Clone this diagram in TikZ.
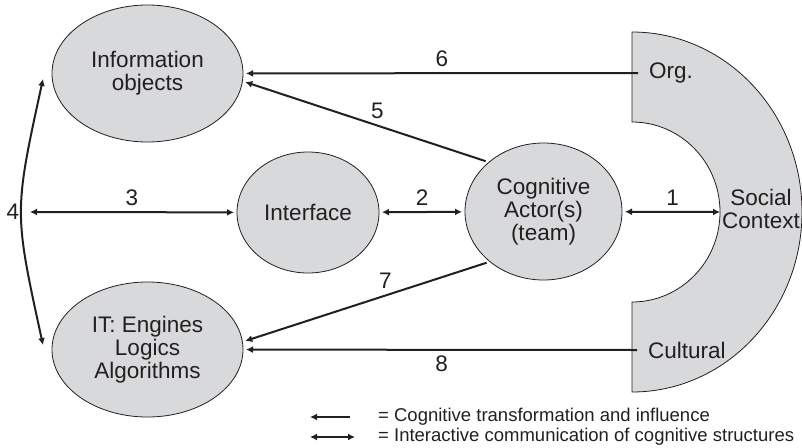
\documentclass[tikz,border=0pt]{standalone}
\usepackage{fontspec}
\setmainfont{Liberation Sans}
\usetikzlibrary{arrows.meta}
\usetikzlibrary{shapes.geometric}

\definecolor{ink}{RGB}{35,31,32}
\definecolor{blobgray}{RGB}{216,217,219}

\begin{document}
\begin{tikzpicture}[x=1pt, y=-1pt,
  blob/.style={ellipse, draw=ink, line width=0.8pt, fill=blobgray, inner sep=0pt,
    outer sep=3pt, align=center, text=ink, font=\fontsize{22.5}{23}\selectfont},
  num/.style={text=ink, font=\fontsize{22.5}{23}\selectfont},
  legend/.style={text=ink, anchor=west, inner sep=0pt, font=\fontsize{18.5}{20}\selectfont},
  oneway/.style={draw=ink, line width=2pt, -{Latex[length=7pt,width=7pt]}},
  twoway/.style={draw=ink, line width=2pt, {Latex[length=7pt,width=7pt]}-{Latex[length=7pt,width=7pt]}},
]
\useasboundingbox (0,0) rectangle (802,447);

% social context half ring
\draw[draw=ink, line width=0.8pt, fill=blobgray] (632,32)
  arc[start angle=90, end angle=-90, x radius=170pt, y radius=180pt] -- (632,302)
  arc[start angle=-90, end angle=90, x radius=88pt, y radius=90pt] -- cycle;
\coordinate (soc) at (720,212);
\node[num, align=center] (soctxt) at (761,209) {Social\\Context};
\node[num, anchor=west, inner sep=0pt, outer sep=11pt] (org) at (638,73) {Org.};
\node[num, anchor=west, inner sep=0pt, outer sep=11pt] (cult) at (637,350) {Cultural};

% ellipses
\node[blob, minimum width=191pt, minimum height=137pt] (info) at (147.5,73.5) {Information\\objects};
\node[blob, minimum width=142pt, minimum height=121pt] (iface) at (308,212.5) {Interface};
\node[blob, minimum width=157pt, minimum height=137pt] (actor) at (543.5,211.5) {Cognitive\\Actor(s)\\(team)};
\node[blob, minimum width=191pt, minimum height=135pt] (itsys) at (147.5,349.5) {IT: Engines\\Logics\\Algorithms};

% connectors
\draw[twoway] (actor) -- (soc) node[num, midway, above=2pt] {1};
\draw[twoway] (iface) -- (actor) node[num, midway, above=2pt] {2};
\coordinate (top4) at (43,79);
\coordinate (mid4) at (30,212);
\coordinate (bot4) at (43,345);
\draw[twoway] (top4) .. controls (14,212) .. (bot4);
\node[num] (n4) at (13,212) {4};
\draw[twoway] (mid4) -- (iface) node[num, midway, above=2pt] {3};
\draw[oneway] (actor.139) -- (info.-5) node[num, pos=0.45, above=3pt] {5};
\draw[oneway] (org.west) -- (info) node[num, midway, above=2pt] {6};
\draw[oneway] (actor.222) -- (itsys.5) node[num, pos=0.42, above=3pt] {7};
\draw[oneway] (cult.west) -- (itsys) node[num, midway, below=2pt] {8};

% legend
\coordinate (l1a) at (310,417);
\coordinate (l1b) at (350,417);
\coordinate (l2a) at (310,437);
\coordinate (l2b) at (355,437);
\draw[oneway] (l1b) -- (l1a);
\draw[twoway] (l2a) -- (l2b);
\node[legend] (leg1) at (378,417) {= Cognitive transformation and influence};
\node[legend] (leg2) at (378,437) {= Interactive communication of cognitive structures};
\end{tikzpicture}
\end{document}
